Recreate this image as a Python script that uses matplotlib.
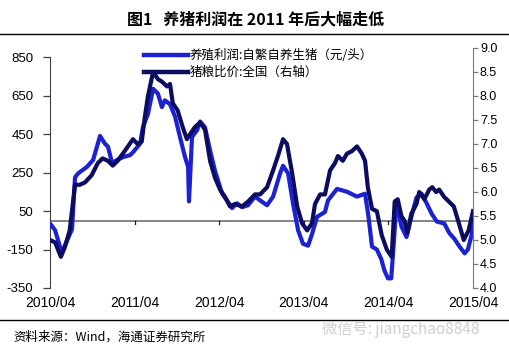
"""Pig-farming profit vs. hog/grain price ratio, 2010/04 - 2015/04."""

import matplotlib

matplotlib.use("Agg")
import matplotlib.dates as mdates
import matplotlib.pyplot as plt
import pandas as pd
from matplotlib.lines import Line2D

CJK = ["Noto Sans CJK SC", "DejaVu Sans"]
NUM = ["Liberation Sans", "DejaVu Sans"]

# --- data ---
profit_dates = [
    "2010-04-01", "2010-04-23", "2010-05-14", "2010-05-23", "2010-06-13", "2010-07-05",
    "2010-07-18", "2010-07-31", "2010-09-08", "2010-10-04", "2010-11-03", "2010-11-24",
    "2010-12-07", "2010-12-25", "2011-01-15", "2011-02-10", "2011-03-12", "2011-03-25",
    "2011-04-25", "2011-05-07", "2011-05-29", "2011-06-20", "2011-07-11", "2011-07-28",
    "2011-08-10", "2011-09-01", "2011-09-23", "2011-10-14", "2011-11-05", "2011-11-18",
    "2011-11-22", "2011-12-05", "2011-12-27", "2012-01-09", "2012-01-30", "2012-02-21",
    "2012-03-13", "2012-04-13", "2012-05-04", "2012-05-26", "2012-06-16", "2012-07-08",
    "2012-08-03", "2012-09-02", "2012-09-24", "2012-10-24", "2012-11-19", "2012-12-19",
    "2013-01-01", "2013-01-23", "2013-02-13", "2013-03-07", "2013-03-28", "2013-04-19",
    "2013-05-06", "2013-05-28", "2013-07-01", "2013-07-14", "2013-08-22", "2013-10-04",
    "2013-11-16", "2013-12-21", "2014-01-05", "2014-01-20", "2014-02-10", "2014-03-01",
    "2014-03-15", "2014-03-30", "2014-04-13", "2014-04-25", "2014-05-06", "2014-05-27",
    "2014-06-18", "2014-07-09", "2014-07-31", "2014-08-22", "2014-09-13", "2014-10-05",
    "2014-10-27", "2014-11-28", "2014-12-20", "2015-01-11", "2015-02-02", "2015-02-24",
    "2015-03-10", "2015-03-27", "2015-04-01",
]
profit_values = [
    -15, -50, -135, -165, -105, -45,
    225, 245, 280, 315, 440, 400,
    385, 300, 315, 330, 340, 355,
    400, 485, 555, 685, 660, 590,
    625, 605, 540, 435, 330, 280,
    100, 435, 470, 515, 485, 365,
    260, 140, 105, 65, 90, 70,
    80, 125, 105, 80, 125, 245,
    285, 245, 90, -50, -120, -130,
    -70, 20, 45, 105, 165, 150,
    125, 140, 20, -135, -150, -200,
    -260, -300, -300, -100, 100, -30,
    -85, 20, 120, 140, 90, 35,
    -5, -15, -65, -95, -135, -170,
    -150, -70, 20,
]

ratio_dates = [
    "2010-04-01", "2010-04-23", "2010-05-18", "2010-06-04", "2010-06-25", "2010-07-18",
    "2010-08-08", "2010-08-30", "2010-09-28", "2010-10-24", "2010-11-14", "2010-12-07",
    "2010-12-28", "2011-01-18", "2011-02-17", "2011-03-25", "2011-04-14", "2011-05-02",
    "2011-05-15", "2011-05-29", "2011-06-20", "2011-07-11", "2011-07-28", "2011-08-19",
    "2011-09-01", "2011-09-13", "2011-10-04", "2011-10-26", "2011-11-13", "2011-11-26",
    "2011-12-17", "2012-01-09", "2012-01-30", "2012-02-21", "2012-03-13", "2012-04-04",
    "2012-04-25", "2012-05-17", "2012-06-07", "2012-07-08", "2012-08-03", "2012-09-02",
    "2012-09-24", "2012-10-24", "2012-11-19", "2012-12-10", "2013-01-01", "2013-01-18",
    "2013-02-09", "2013-03-03", "2013-03-24", "2013-04-15", "2013-05-06", "2013-05-19",
    "2013-06-10", "2013-07-01", "2013-07-23", "2013-08-13", "2013-08-26", "2013-09-16",
    "2013-10-04", "2013-10-25", "2013-11-16", "2013-12-07", "2013-12-21", "2014-01-02",
    "2014-01-20", "2014-02-10", "2014-03-03", "2014-03-25", "2014-04-15", "2014-04-28",
    "2014-05-11", "2014-05-27", "2014-06-09", "2014-06-22", "2014-07-09", "2014-07-31",
    "2014-08-12", "2014-09-03", "2014-09-24", "2014-10-07", "2014-10-24", "2014-11-06",
    "2014-11-27", "2014-12-18", "2015-01-08", "2015-01-30", "2015-02-20", "2015-03-13",
    "2015-04-01",
]
ratio_values = [
    5.0, 4.95, 4.65, 4.85, 5.2, 6.15,
    6.15, 6.2, 6.35, 6.6, 6.7, 6.65,
    6.55, 6.65, 6.85, 7.1, 7.0, 7.05,
    7.55, 8.0, 8.5, 8.35, 8.3, 8.2,
    8.25, 7.85, 7.7, 7.35, 7.1, 7.2,
    7.35, 7.45, 7.3, 6.65, 6.3, 6.05,
    5.9, 5.7, 5.75, 5.7, 5.8, 5.95,
    5.95, 6.1, 6.45, 6.75, 7.1, 7.0,
    6.4, 5.7, 5.35, 5.2, 5.35, 5.75,
    5.95, 5.95, 6.45, 6.6, 6.75, 6.65,
    6.8, 6.85, 6.95, 6.8, 6.65, 6.1,
    5.65, 5.6, 5.1, 4.8, 4.65, 5.8,
    5.85, 5.5, 5.4, 5.15, 5.55, 5.75,
    6.0, 5.85, 6.05, 6.1, 6.0, 6.05,
    5.9, 5.8, 5.7, 5.35, 5.0, 5.2,
    5.6,
]

left_ticks = [-350, -150, 50, 250, 450, 650, 850]
right_ticks = [4.0, 4.5, 5.0, 5.5, 6.0, 6.5, 7.0, 7.5, 8.0, 8.5, 9.0]
x_ticks = ["2010-04-01", "2011-04-01", "2012-04-01", "2013-04-01", "2014-04-01", "2015-04-01"]
x_tick_labels = ["2010/04", "2011/04", "2012/04", "2013/04", "2014/04", "2015/04"]

title = "图1   养猪利润在 2011 年后大幅走低"
profit_label = "养殖利润:自繁自养生猪（元/头）"
ratio_label = "猪粮比价:全国（右轴）"
source = "资料来源：Wind，海通证券研究所"
watermark = "微信号: jiangchao8848"

PROFIT_COLOR = "#1c22d2"
RATIO_COLOR = "#0c0c60"
AXIS_GRAY = "#7a7a7a"

# --- figure ---
W, H = 509, 355
fig = plt.figure(figsize=(5.09, 3.55), dpi=100)
ax = fig.add_axes([50 / W, 1 - 288 / H, (473 - 50) / W, (288 - 48) / H])
ax2 = ax.twinx()

xt = mdates.date2num(pd.to_datetime(x_ticks))
ax.set_xlim(xt[0], xt[-1])
ax.set_ylim(-350, 897)
ax2.set_ylim(4.0, 9.0)

# zero line (x axis sits on it) with small ticks hanging below
ax.axhline(0, color=AXIS_GRAY, lw=1.3, zorder=2)
for x in xt[1:-1]:
    ax.plot([x, x], [0, -20], color="#202020", lw=0.9, zorder=2)

ax.plot(mdates.date2num(pd.to_datetime(profit_dates)), profit_values,
        color=PROFIT_COLOR, lw=3.0, solid_joinstyle="round", zorder=3)
ax2.plot(mdates.date2num(pd.to_datetime(ratio_dates)), ratio_values,
         color=RATIO_COLOR, lw=3.0, solid_joinstyle="round", zorder=3)

# left axis
ax.set_yticks(left_ticks)
ax.set_yticklabels([str(v) for v in left_ticks], family=NUM, fontsize=9.5)
ax.spines["left"].set_bounds(-350, 850)
ax.spines["left"].set_color("#404040")
ax.tick_params(axis="y", direction="out", length=5, width=0.9, color="#404040", pad=7)

# right axis
ax2.set_yticks(right_ticks)
ax2.set_yticklabels([f"{v:.1f}" for v in right_ticks], family=NUM, fontsize=9)
ax2.spines["right"].set_color(AXIS_GRAY)
ax2.tick_params(axis="y", direction="out", length=3.5, width=0.9, color=AXIS_GRAY, pad=1.5)

for a in (ax, ax2):
    a.spines["top"].set_visible(False)
    a.spines["bottom"].set_visible(False)
ax2.spines["left"].set_visible(False)
ax.spines["right"].set_visible(False)

# x labels at the bottom of the plot
ax.set_xticks(xt)
ax.tick_params(axis="x", length=0, labelbottom=False)
for x, lab in zip(xt, x_tick_labels):
    ax.text(x, -0.062, lab, transform=ax.get_xaxis_transform(), ha="center", va="center",
            family=NUM, fontsize=10)

# legend
handles = [Line2D([], [], color=PROFIT_COLOR, lw=3.2), Line2D([], [], color=RATIO_COLOR, lw=3.2)]
fig.legend(handles, [profit_label, ratio_label], loc="upper left",
           bbox_to_anchor=(138 / W, 1 - 43 / H), frameon=False, borderpad=0,
           handlelength=3.5, handletextpad=0.1, labelspacing=0.3,
           prop={"family": CJK, "size": 9})

# title, rules, source
fig.text(256 / W, 1 - 19.5 / H, title, ha="center", va="center", family=CJK,
         fontsize=11.5, fontweight="bold")
fig.add_artist(Line2D([0, 1], [1 - 34 / H, 1 - 34 / H], color="black", lw=1.0))
fig.add_artist(Line2D([0, 1], [1 - 319.5 / H, 1 - 319.5 / H], color="black", lw=1.0))
fig.text(13 / W, 1 - 337 / H, source, ha="left", va="center", family=CJK, fontsize=9)
fig.text(322 / W, 1 - 330 / H, watermark, ha="left", va="center", family=CJK,
         fontsize=11, color="#cfcfcf")

fig.savefig("out.png", dpi=100)
plt.close(fig)
